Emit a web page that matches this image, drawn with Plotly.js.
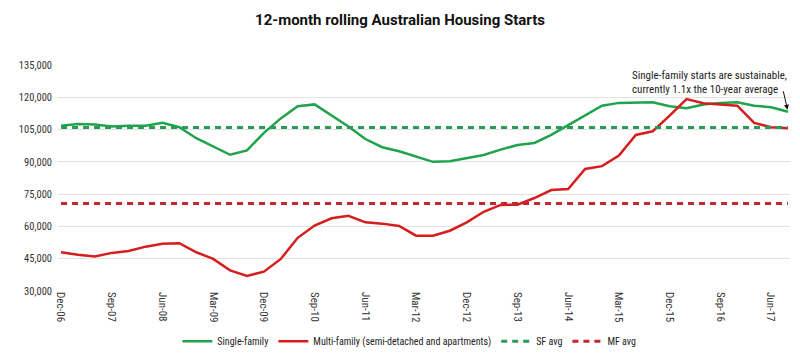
<!DOCTYPE html>
<html>
<head>
<meta charset="utf-8">
<script src="https://cdn.plot.ly/plotly-3.0.1.min.js"></script>
<style>html,body{margin:0;padding:0;background:#fff;}#chart{width:800px;height:359px;}</style>
</head>
<body>
<div id="chart"></div>
<script>
const quarters = ["Dec-06","Mar-07","Jun-07","Sep-07","Dec-07","Mar-08","Jun-08","Sep-08","Dec-08","Mar-09","Jun-09","Sep-09","Dec-09","Mar-10","Jun-10","Sep-10","Dec-10","Mar-11","Jun-11","Sep-11","Dec-11","Mar-12","Jun-12","Sep-12","Dec-12","Mar-13","Jun-13","Sep-13","Dec-13","Mar-14","Jun-14","Sep-14","Dec-14","Mar-15","Jun-15","Sep-15","Dec-15","Mar-16","Jun-16","Sep-16","Dec-16","Mar-17","Jun-17","Sep-17"];
const singleFamily = [106800,107600,107300,106400,106800,106800,108200,106100,101000,97200,93300,95300,103500,110200,115800,116700,111500,106400,100600,96800,94900,92400,90000,90300,91700,93200,95700,97800,98800,102500,107100,111500,116100,117400,117400,117700,115800,114900,116600,117400,117700,116100,115400,113300];
const multiFamily = [48000,46800,46000,47700,48600,50600,52000,52200,48000,44900,39600,37000,39000,44900,54700,60400,63800,64900,61900,61300,60200,55700,55700,58000,61900,66800,70000,70100,73200,76900,77400,86700,88000,92900,102500,104200,111500,119200,117200,116600,116100,108100,106100,105600];
const sfAvgValue = 106000;
const mfAvgValue = 70700;
const tickLabels = ["Dec-06","Sep-07","Jun-08","Mar-09","Dec-09","Sep-10","Jun-11","Mar-12","Dec-12","Sep-13","Jun-14","Mar-15","Dec-15","Sep-16","Jun-17"];
const yTicks = [30000,45000,60000,75000,90000,105000,120000,135000];

const GREEN = "#1fa34c";
const RED = "#d51e1e";
const GREEN_D = "#2a9a58";
const RED_D = "#c1272d";
const FONT = "'Roboto Condensed', Roboto, sans-serif";

const traces = [
  {x: quarters, y: singleFamily, type: "scatter", mode: "lines", name: "Single-family",
   line: {color: GREEN, width: 2.5}},
  {x: quarters, y: multiFamily, type: "scatter", mode: "lines", name: "Multi-family (semi-detached and apartments)",
   line: {color: RED, width: 2.5}},
  {x: quarters, y: quarters.map(() => sfAvgValue), type: "scatter", mode: "lines", name: "SF avg",
   line: {color: GREEN_D, width: 3, dash: "6px,5px"}},
  {x: quarters, y: quarters.map(() => mfAvgValue), type: "scatter", mode: "lines", name: "MF avg",
   line: {color: RED_D, width: 3, dash: "6px,5px"}}
];

const layout = {
  width: 800, height: 359,
  margin: {l: 58, r: 10, t: 65, b: 68, autoexpand: false},
  paper_bgcolor: "#fff", plot_bgcolor: "#fff",
  font: {family: FONT, size: 10, color: "#333"},
  title: {text: "<b>12-month rolling Australian Housing Starts</b>", x: 0.5, xanchor: "center", y: 0.944, yanchor: "middle",
          font: {family: "Roboto, 'Liberation Sans', sans-serif", size: 15, color: "#111"}},
  xaxis: {type: "category", range: [-0.18, 43.12], tickmode: "array", tickvals: tickLabels, ticktext: tickLabels,
          tickangle: 90, showgrid: false, zeroline: false, showline: false, ticks: "", automargin: false,
          tickfont: {family: FONT, size: 11, color: "#333"}},
  yaxis: {range: [30000, 135000], tickvals: yTicks, ticktext: yTicks.map(v => v.toLocaleString("en-US")),
          showgrid: true, gridcolor: "#e3e3e3", gridwidth: 1, zeroline: false, showline: false, ticks: "",
          ticklabelstandoff: 5, automargin: false,
          tickfont: {family: FONT, size: 10.5, color: "#333"}},
  showlegend: true,
  legend: {orientation: "h", x: 0.48, xanchor: "center", y: -0.222, yanchor: "middle",
           font: {family: FONT, size: 10, color: "#222"}, itemwidth: 30, bgcolor: "rgba(0,0,0,0)"},
  annotations: [
    {xref: "paper", yref: "paper", x: 0.781, y: 0.99, xanchor: "left", yanchor: "top", showarrow: false, align: "left",
     text: "Single-family starts are sustainable,<br>currently 1.1x the 10-year average",
     font: {family: FONT, size: 11, color: "#222"}},
    {x: "Sep-17", y: singleFamily[singleFamily.length - 1], xref: "x", yref: "y", text: "", showarrow: true,
     arrowhead: 2, arrowsize: 1, arrowwidth: 1, arrowcolor: "#111", ax: -5, ay: -22, standoff: 2}
  ]
};

Plotly.newPlot("chart", traces, layout, {displayModeBar: false, staticPlot: true});
</script>
</body>
</html>
